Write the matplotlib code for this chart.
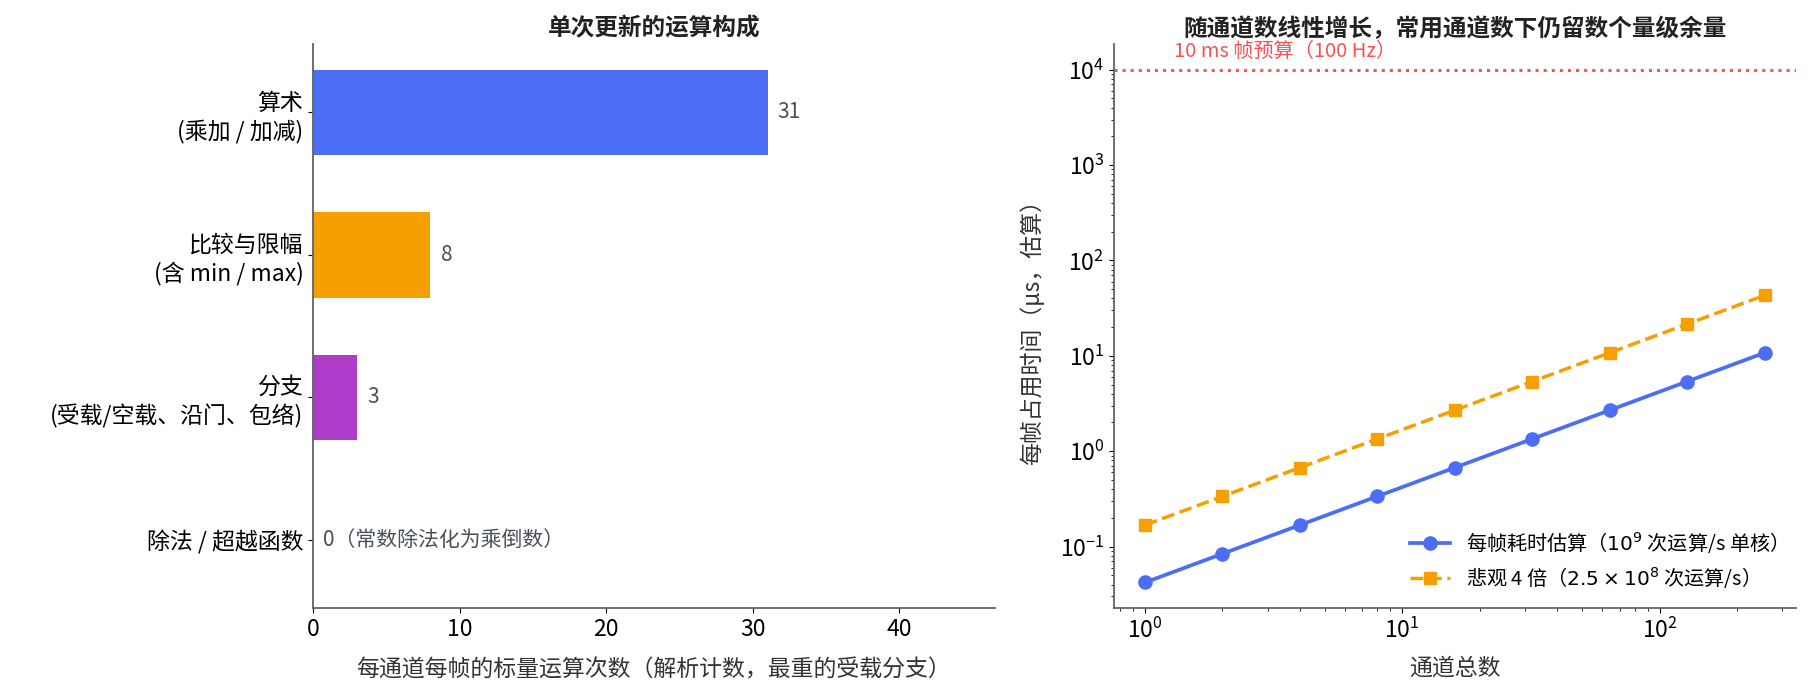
import numpy as np
import matplotlib
matplotlib.use('Agg')
import matplotlib.pyplot as plt

plt.rcParams['font.family'] = ['Noto Sans CJK SC', 'DejaVu Sans']
plt.rcParams['axes.unicode_minus'] = False

# 左图：单次更新的运算构成
categories = ['算术\n(乘加 / 加减)', '比较与限幅\n(含 min / max)',
              '分支\n(受载/空载、沿门、包络)', '除法 / 超越函数']
counts = [31, 8, 3, 0]
bar_labels = ['31', '8', '3', '0（常数除法化为乘倒数）']
bar_colors = ['#4C6EF5', '#F59F00', '#AE3EC9', '#868E96']

# 右图：随通道数的耗时
channels = [1, 2, 4, 8, 16, 32, 64, 128, 256]
time_est = [0.042, 0.084, 0.168, 0.336, 0.672, 1.344, 2.688, 5.376, 10.752]
time_pess = [0.168, 0.336, 0.672, 1.344, 2.688, 5.376, 10.752, 21.504, 43.008]
budget_us = 1e4

spine_col = '#5f6368'
text_col = '#495057'

fig, (ax1, ax2) = plt.subplots(1, 2, figsize=(18.1, 6.99), dpi=100)
fig.subplots_adjust(left=0.173, right=0.992, top=0.937, bottom=0.13, wspace=0.175)

y = np.arange(len(categories))
ax1.barh(y, counts, height=0.6, color=bar_colors)
for yi, c, lab in zip(y, counts, bar_labels):
    ax1.text(c + 0.7, yi, lab, va='center', ha='left', fontsize=15, color=text_col)
ax1.set_yticks(y)
ax1.set_yticklabels(categories, fontsize=16.5, linespacing=1.25)
ax1.invert_yaxis()
ax1.set_xlim(0, 46.5)
ax1.set_xlabel('每通道每帧的标量运算次数（解析计数，最重的受载分支）', fontsize=16.5,
               color='#333333', labelpad=13)
ax1.set_title('单次更新的运算构成', fontsize=17, fontweight='bold', color='#222222')
ax1.tick_params(axis='x', labelsize=16.5)

ax2.plot(channels, time_est, '-o', color='#4C6EF5', lw=2.7, ms=9.5,
         label='每帧耗时估算（$10^9$ 次运算/s 单核）')
ax2.plot(channels, time_pess, '--s', color='#F59F00', lw=2.5, ms=8,
         label='悲观 4 倍（$2.5\\times10^8$ 次运算/s）')
ax2.axhline(budget_us, color='#FA5252', ls=':', lw=2.2)
ax2.set_xscale('log')
ax2.set_yscale('log')
ax2.text(1.3, budget_us * 1.2, '10 ms 帧预算（100 Hz）', color='#FA5252',
         fontsize=14.5, ha='left', va='bottom')
ax2.set_xlabel('通道总数', fontsize=16.5, color='#333333', labelpad=10)
ax2.set_ylabel('每帧占用时间（μs，估算）', fontsize=16.5, color='#333333', labelpad=11)
ax2.set_title('随通道数线性增长，常用通道数下仍留数个量级余量', fontsize=17,
              fontweight='bold', color='#222222')
ax2.tick_params(axis='both', labelsize=16.5)
ax2.legend(loc='lower right', frameon=False, fontsize=14.5)

for ax in (ax1, ax2):
    ax.spines['top'].set_visible(False)
    ax.spines['right'].set_visible(False)
    ax.spines['left'].set_color(spine_col)
    ax.spines['bottom'].set_color(spine_col)
    ax.spines['left'].set_linewidth(1.3)
    ax.spines['bottom'].set_linewidth(1.3)

fig.savefig('out.png', dpi=100)
